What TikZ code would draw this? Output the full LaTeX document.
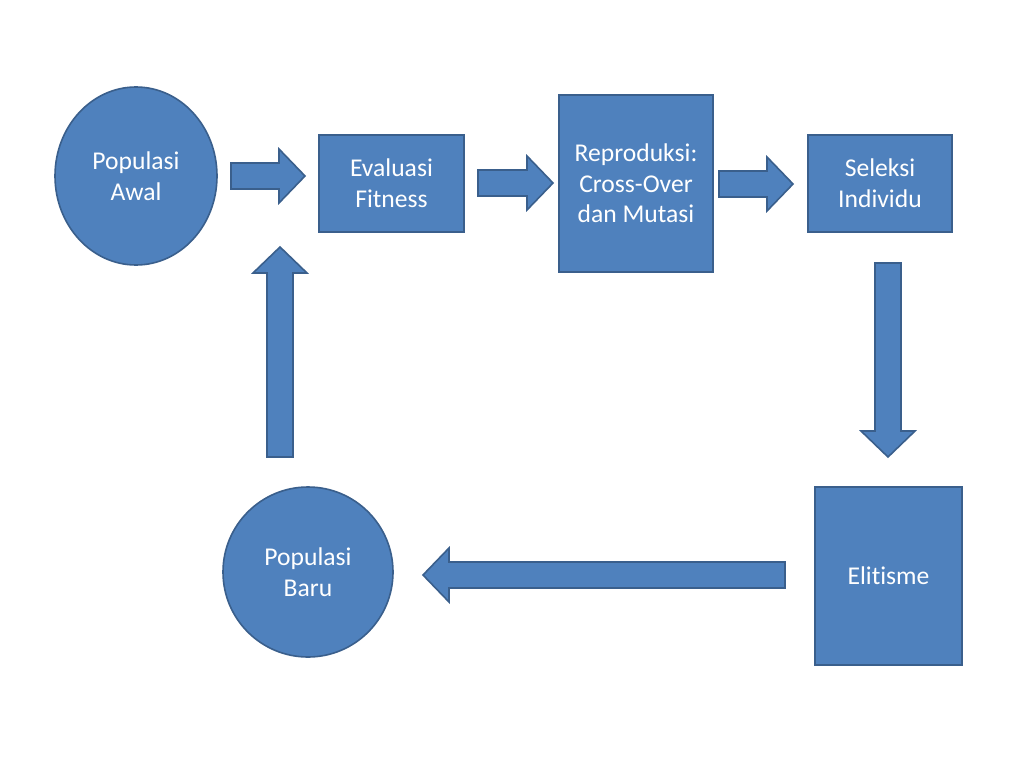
\documentclass[tikz,border=0pt]{standalone}
\usepackage{fontspec}
\setmainfont[Ligatures={NoCommon}]{Carlito}
\usetikzlibrary{shapes.geometric,calc}
\definecolor{fillblue}{HTML}{4F81BD}
\definecolor{edgeblue}{HTML}{3A5F8C}
\begin{document}
\begin{tikzpicture}[x=1pt,y=-1pt,
  shapebox/.style={draw=edgeblue,fill=fillblue,line width=1.6pt,text=white,
    align=center,inner sep=0pt,font=\fontsize{25.6}{30.7}\selectfont},
  rectbox/.style={shapebox,rectangle},
  blockarrow/.style={draw=edgeblue,fill=fillblue,line width=1.6pt,line join=miter,
    to path={($(\tikztostart)!13pt!90:(\tikztotarget)$)
      -- ($(\tikztotarget)!26pt!(\tikztostart)!13pt!-90:(\tikztostart)$)
      -- ($(\tikztotarget)!26pt!(\tikztostart)!27pt!-90:(\tikztostart)$)
      -- (\tikztotarget)
      -- ($(\tikztotarget)!26pt!(\tikztostart)!27pt!90:(\tikztostart)$)
      -- ($(\tikztotarget)!26pt!(\tikztostart)!13pt!90:(\tikztostart)$)
      -- ($(\tikztostart)!13pt!-90:(\tikztotarget)$)
      -- cycle}}
]
\useasboundingbox (0,0) rectangle (1024,768);
\fill[white] (0,0) rectangle (1024,768);

\node[shapebox,ellipse,minimum width=162pt,minimum height=178pt] (awal) at (136,176) {Populasi\\Awal};
\node[rectbox,minimum width=145pt,minimum height=97pt] (eval) at (391.5,183.5) {Evaluasi\\Fitness};
\node[rectbox,minimum width=154pt,minimum height=177pt] (repro) at (636,183.5) {Reproduksi:\\Cross-Over\\dan Mutasi};
\node[rectbox,minimum width=144pt,minimum height=97pt] (seleksi) at (880,183.5) {Seleksi\\Individu};
\node[rectbox,minimum width=147pt,minimum height=178pt] (elit) at (888.5,576) {Elitisme};
\node[shapebox,circle,minimum size=170pt] (baru) at (308,572) {Populasi\\Baru};

\coordinate (a1s) at (231,176);  \coordinate (a1t) at (305,176);
\coordinate (a2s) at (478,183);  \coordinate (a2t) at (553,183);
\coordinate (a3s) at (719,184);  \coordinate (a3t) at (793,184);
\coordinate (a4s) at (888,263);  \coordinate (a4t) at (888,457);
\coordinate (a5s) at (785,575);  \coordinate (a5t) at (423,575);
\coordinate (a6s) at (280,457);  \coordinate (a6t) at (280,247);

\draw[blockarrow] (a1s) to (a1t);
\draw[blockarrow] (a2s) to (a2t);
\draw[blockarrow] (a3s) to (a3t);
\draw[blockarrow] (a4s) to (a4t);
\draw[blockarrow] (a5s) to (a5t);
\draw[blockarrow] (a6s) to (a6t);
\end{tikzpicture}
\end{document}
